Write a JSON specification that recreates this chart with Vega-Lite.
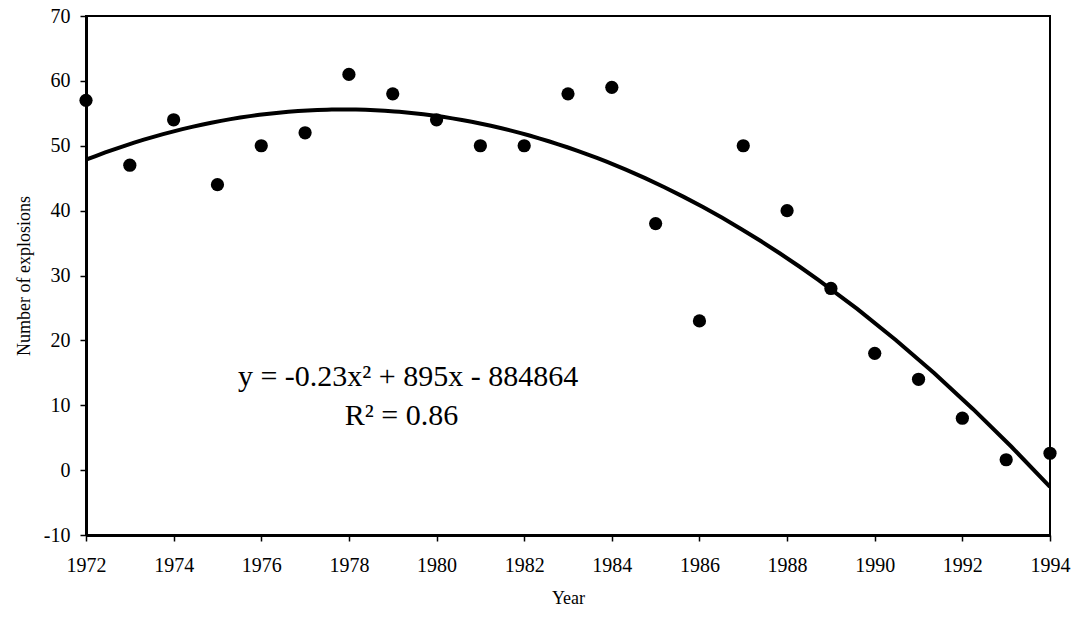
{
  "$schema": "https://vega.github.io/schema/vega-lite/v6.json",
  "width": 964,
  "height": 519,
  "autosize": {"type": "none"},
  "padding": {"left": 86, "top": 16, "right": 30, "bottom": 82},
  "background": "white",
  "config": {
    "view": {"stroke": "black", "strokeWidth": 2},
    "font": "Liberation Serif",
    "axis": {
      "grid": false,
      "domainColor": "black",
      "domainWidth": 3,
      "tickColor": "black",
      "tickWidth": 1.5,
      "tickSize": 6,
      "labelColor": "black",
      "titleColor": "black",
      "labelFont": "Liberation Serif",
      "titleFont": "Liberation Serif",
      "labelFontSize": 20,
      "titleFontSize": 18,
      "titleFontWeight": "normal",
      "labelFlush": false,
      "labelOverlap": false,
      "labelBound": false
    }
  },
  "datasets": {
    "points": [
      {"year": 1972, "n": 57},
      {"year": 1973, "n": 47},
      {"year": 1974, "n": 54},
      {"year": 1975, "n": 44},
      {"year": 1976, "n": 50},
      {"year": 1977, "n": 52},
      {"year": 1978, "n": 61},
      {"year": 1979, "n": 58},
      {"year": 1980, "n": 54},
      {"year": 1981, "n": 50},
      {"year": 1982, "n": 50},
      {"year": 1983, "n": 58},
      {"year": 1984, "n": 59},
      {"year": 1985, "n": 38},
      {"year": 1986, "n": 23},
      {"year": 1987, "n": 50},
      {"year": 1988, "n": 40},
      {"year": 1989, "n": 28},
      {"year": 1990, "n": 18},
      {"year": 1991, "n": 14},
      {"year": 1992, "n": 8},
      {"year": 1993, "n": 1.6},
      {"year": 1994, "n": 2.6}
    ],
    "labels": [
      {"year": 1979.35, "n": 14.4, "label": "y = -0.23x² + 895x - 884864"},
      {"year": 1979.2, "n": 8.3, "label": "R² = 0.86"}
    ]
  },
  "layer": [
    {
      "data": {"name": "points"},
      "transform": [
        {"regression": "n", "on": "year", "method": "poly", "order": 2, "extent": [1972, 1994]}
      ],
      "mark": {"type": "line", "color": "black", "strokeWidth": 4, "clip": true},
      "encoding": {
        "x": {
          "field": "year", "type": "quantitative",
          "scale": {"domain": [1972, 1994], "nice": false, "zero": false},
          "axis": {"values": [1972, 1974, 1976, 1978, 1980, 1982, 1984, 1986, 1988, 1990, 1992, 1994], "format": "d", "title": "Year", "labelPadding": 14, "titlePadding": 14}
        },
        "y": {
          "field": "n", "type": "quantitative",
          "scale": {"domain": [-10, 70], "nice": false, "zero": false},
          "axis": {"values": [-10, 0, 10, 20, 30, 40, 50, 60, 70], "labelExpr": "datum.value < 0 ? '-' + abs(datum.value) : datum.label", "title": "Number of explosions", "labelPadding": 10, "titlePadding": 10}
        }
      }
    },
    {
      "data": {"name": "points"},
      "mark": {"type": "circle", "color": "black", "opacity": 1, "size": 175, "clip": false},
      "encoding": {
        "x": {"field": "year", "type": "quantitative"},
        "y": {"field": "n", "type": "quantitative"}
      }
    },
    {
      "data": {"name": "labels"},
      "mark": {"type": "text", "font": "Liberation Serif", "fontSize": 30, "color": "black", "align": "center", "baseline": "middle"},
      "encoding": {
        "x": {"field": "year", "type": "quantitative"},
        "y": {"field": "n", "type": "quantitative"},
        "text": {"field": "label"}
      }
    }
  ]
}
